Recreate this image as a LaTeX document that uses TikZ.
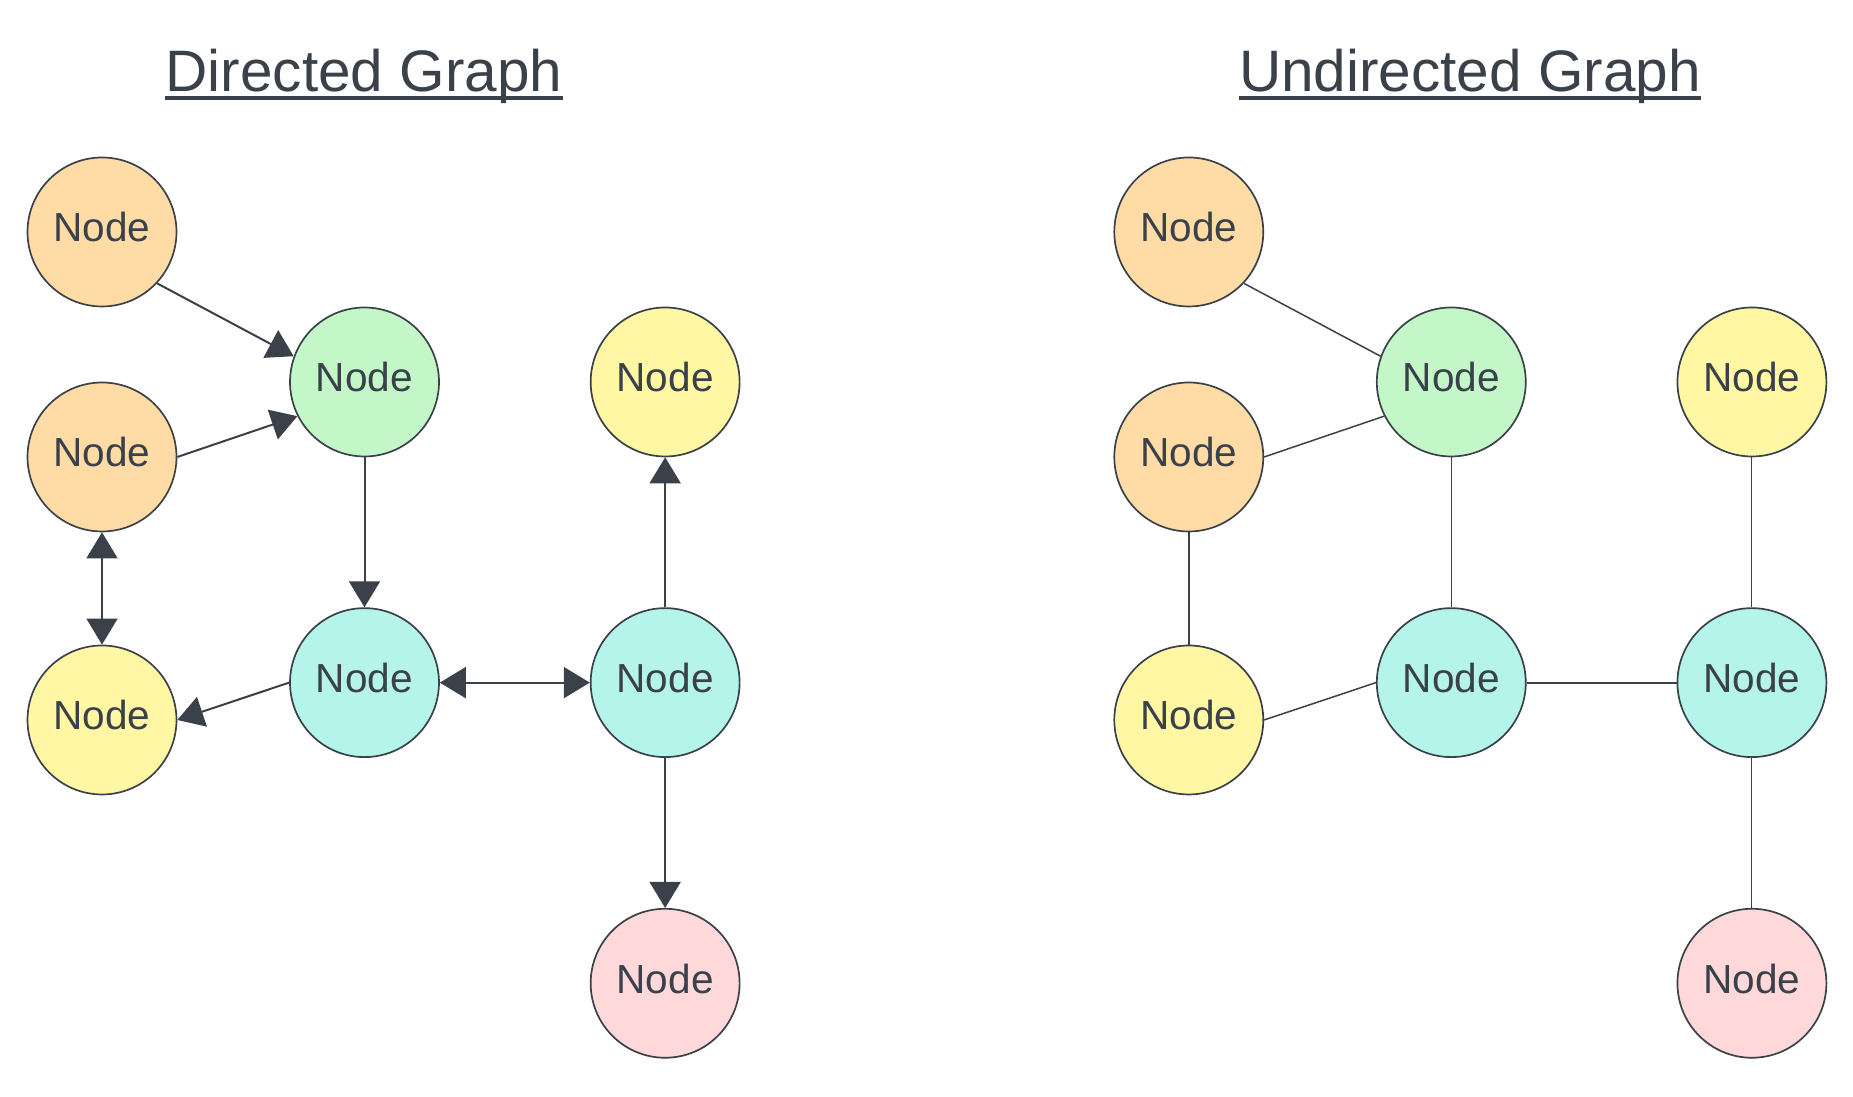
\documentclass[tikz,border=0pt]{standalone}
\usepackage{fontspec}
\setmainfont{Liberation Sans}
\usetikzlibrary{positioning,arrows.meta}
\definecolor{tamna}{HTML}{3A414A}
\definecolor{narandzasta}{HTML}{FFDCA6}
\definecolor{zelena}{HTML}{C3F7C8}
\definecolor{zuta}{HTML}{FFF7A3}
\definecolor{tirkizna}{HTML}{B4F4EA}
\definecolor{roze}{HTML}{FFD8DA}
\newcommand{\graphnodes}[1]{%
\node[krug, fill=narandzasta] (#1a) at (102,865) {Node};
\node[krug, fill=zelena] (#1b) at (364.5,715) {Node};
\node[krug, fill=narandzasta] (#1c) at (102,640) {Node};
\node[krug, fill=zuta] (#1e) at (102,377) {Node};
\node[krug, fill=tirkizna, below=of #1b] (#1f) {Node};
\node[krug, fill=tirkizna, right=of #1f] (#1g) {Node};
\node[krug, fill=zuta, above=of #1g] (#1d) {Node};
\node[krug, fill=roze, below=of #1g] (#1h) {Node};
}

\begin{document}
\begin{tikzpicture}[
  x=0.02cm, y=0.02cm,
  node distance=3cm and 3cm,
  krug/.style={circle, draw=tamna, line width=0.034cm, minimum size=2.98cm, inner sep=0pt,
               text height=16.8pt, text depth=5.6pt,
               text=tamna, font=\fontsize{23.1pt}{28pt}\selectfont},
  naslov/.style={inner sep=0pt, text=tamna, font=\fontsize{33.3pt}{40pt}\selectfont},
  veza/.style={draw=tamna, line width=0.04cm},
  tanka/.style={draw=tamna, line width=0.022cm},
  arr/.style={-{Triangle[length=0.52cm, width=0.62cm]}, veza},
  darr/.style={{Triangle[length=0.52cm, width=0.62cm]}-{Triangle[length=0.52cm, width=0.62cm]}, veza}
]
\useasboundingbox (0,0) rectangle (1853,1097);

\node[naslov, anchor=base] (ltitle) at (364,1005) {Directed Graph};
\node[naslov, anchor=base] (rtitle) at (1470,1005) {Undirected Graph};
\draw[tamna, line width=0.066cm] ([yshift=-0.12cm]ltitle.base west) -- ([yshift=-0.12cm]ltitle.base east);
\draw[tamna, line width=0.066cm] ([yshift=-0.12cm]rtitle.base west) -- ([yshift=-0.12cm]rtitle.base east);

\graphnodes{l}
\begin{scope}[xshift=21.74cm]
\graphnodes{r}
\end{scope}

\draw[arr] (la.-43) -- (lb.160);
\draw[arr] (lc.east) -- (lb.207);
\draw[arr] (lb) -- (lf);
\draw[darr, line width=0.028cm] (lc) -- (le);
\draw[arr] (lf.west) -- (le.east);
\draw[darr] (lf) -- (lg);
\draw[arr] (lg) -- (ld);
\draw[arr] (lg) -- (lh);

\draw[veza, line width=0.03cm] (ra.-43) -- (rb.160);
\draw[veza, line width=0.03cm] (rc.east) -- (rb.207);
\draw[veza] (rc) -- (re);
\draw[tanka] (rb) -- (rf);
\draw[veza, line width=0.03cm] (re.east) -- (rf.west);
\draw[veza] (rf) -- (rg);
\draw[tanka] (rd) -- (rg);
\draw[tanka] (rg) -- (rh);
\end{tikzpicture}
\end{document}
